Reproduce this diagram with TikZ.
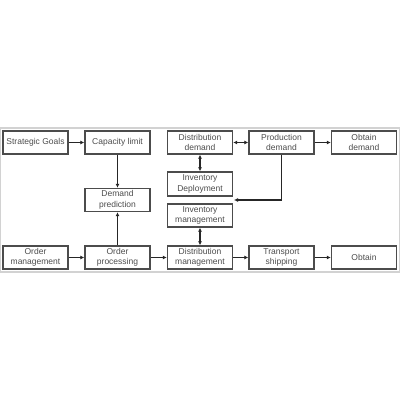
\documentclass[tikz,border=0pt]{standalone}
\usepackage{fontspec}
\setmainfont{Liberation Sans}
\usetikzlibrary{arrows.meta}
\colorlet{myframe}{gray!35}
\colorlet{mybox}{black!70}
\colorlet{mytext}{black!70}

\begin{document}
\begin{tikzpicture}[x=1pt,y=-1pt,>={Latex[length=4pt,width=4pt]}]
\tikzset{BoxStyle/.style ={draw=mybox, line width=1.4pt, minimum width=65pt, minimum height=23pt,
  inner sep=1pt, align=center, font=\fontsize{8.5}{10.5}\selectfont, text=mytext}}
\tikzset{EdgeStyle/.style ={draw=black!85, line width=1.6pt}}
\useasboundingbox (0,0) rectangle (400,400);
\draw[myframe, line width=1.2pt] (0.6,128) rectangle (399.4,272);
% top row
\node[BoxStyle] (goals) at (35.5,142.5) {Strategic Goals};
\node[BoxStyle] (capacity) at (117.5,142.5) {Capacity limit};
\node[BoxStyle] (distdemand) at (200,142.5) {Distribution\\demand};
\node[BoxStyle] (proddemand) at (281.5,142.5) {Production\\demand};
\node[BoxStyle] (obtaindemand) at (364,142.5) {Obtain\\demand};
% middle
\node[BoxStyle] (prediction) at (117.5,200) {Demand\\prediction};
\node[BoxStyle, minimum height=24pt] (deployment) at (200,184) {Inventory\\Deployment};
\node[BoxStyle] (invmgmt) at (200,215.5) {Inventory\\management};
% bottom row
\node[BoxStyle] (ordermgmt) at (35.5,257.5) {Order\\management};
\node[BoxStyle] (orderproc) at (117.5,257.5) {Order\\processing};
\node[BoxStyle] (distmgmt) at (200,257.5) {Distribution\\management};
\node[BoxStyle] (transport) at (281.5,257.5) {Transport\\shipping};
\node[BoxStyle] (obtain) at (364,257.5) {Obtain};
\coordinate (feed) at (234,200);
% connectors
\draw[EdgeStyle,->] (goals) -- (capacity);
\draw[EdgeStyle,->] (capacity) -- (prediction);
\draw[EdgeStyle,->] (orderproc) -- (prediction);
\draw[EdgeStyle,->] (ordermgmt) -- (orderproc);
\draw[EdgeStyle,->] (orderproc) -- (distmgmt);
\draw[EdgeStyle,->] (distmgmt) -- (transport);
\draw[EdgeStyle,->] (transport) -- (obtain);
\draw[EdgeStyle,->] (proddemand) -- (obtaindemand);
\draw[EdgeStyle,<->] (distdemand) -- (proddemand);
\draw[EdgeStyle,<->] (distdemand) -- (deployment);
\draw[EdgeStyle,<->] (invmgmt) -- (distmgmt);
\draw[EdgeStyle,->] (proddemand.south) |- (feed);
\end{tikzpicture}
\end{document}
